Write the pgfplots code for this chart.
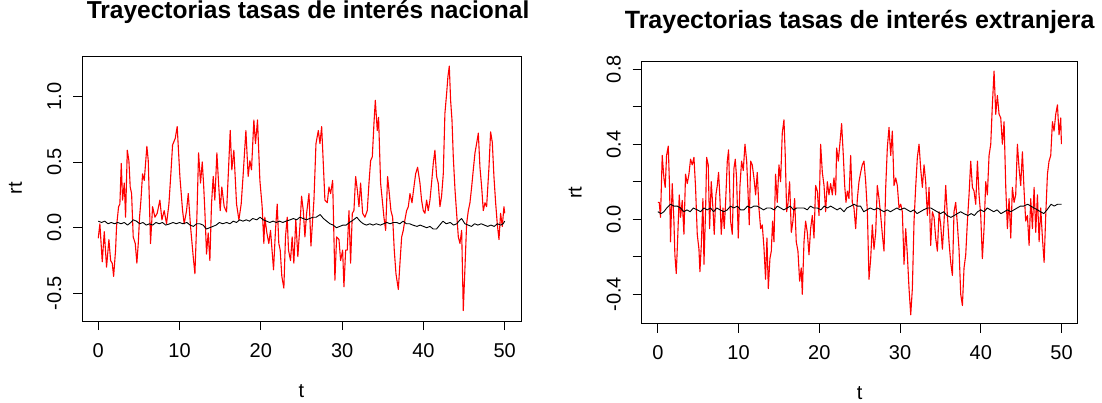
\documentclass[border=0pt]{standalone}
\usepackage{fontspec}
\setmainfont{Liberation Sans}
\usepackage{pgfplots}
\pgfplotsset{compat=1.18}

\pgfplotsset{
  rpanel/.style={
    scale only axis,
    anchor=south west,
    xmin=-2, xmax=52,
    xtick={0,10,20,30,40,50},
    xticklabels={0,10,20,30,40,50},
    tick pos=left,
    tick align=outside,
    major tick length=9pt,
    every tick/.style={black, line width=0.8pt},
    axis line style={black, line width=0.9pt},
    tick label style={font=\fontsize{20}{24}\selectfont},
    xticklabel style={anchor=base},
    xticklabel shift=27pt,
    yticklabel style={rotate=90, anchor=base},
    yticklabel shift=12pt,
    label style={font=\fontsize{20}{24}\selectfont},
    xlabel={t},
    ylabel={rt},
    xlabel style={at={(axis description cs:0.5,0)}, anchor=base, yshift=-76pt},
    title style={font=\fontsize{24.5}{28}\selectfont\bfseries, anchor=base},
  },
  red line/.style={color=red, line width=1.1pt, line join=round},
  black line/.style={color=black, line width=0.9pt, line join=round},
}

\begin{document}
\begin{tikzpicture}

% panel izquierdo: tasas nacionales
\begin{axis}[rpanel,
  at={(82pt,81pt)},
  width=439pt, height=265pt,
  ymin=-0.710, ymax=1.307,
  ytick={-0.5,0,0.5,1.0},
  yticklabels={-0.5,0.0,0.5,1.0},
  ylabel style={at={(axis description cs:-0.1367,0.5)}, anchor=base},
  title={Trayectorias tasas de interés nacional},
  title style={at={(axis description cs:0.515,1)}, yshift=31pt},
]
\addplot[red line] coordinates {
(0.00,-0.08) (0.20,0.03) (0.49,-0.26) (0.74,-0.03) (1.02,-0.30) (1.31,-0.09) (1.52,-0.25) (1.72,-0.27) (1.89,-0.37) (2.13,-0.17) (2.25,0.01) (2.50,0.16) (2.66,0.18) (2.83,0.49) (2.99,0.21) (3.20,0.34) (3.36,0.08) (3.57,0.59) (3.77,0.51) (3.93,0.31) (4.10,0.26) (4.30,-0.07) (4.55,-0.12) (4.75,-0.27) (4.92,-0.12) (5.08,0.08) (5.25,0.21) (5.45,0.41) (5.66,0.36) (5.98,0.62) (6.15,0.51) (6.43,-0.12) (6.68,0.16) (6.97,0.08) (7.25,0.11) (7.58,0.21) (7.83,0.06) (8.11,0.13) (8.40,0.03) (8.69,0.18) (8.93,0.41) (9.14,0.63) (9.47,0.68) (9.71,0.77) (10.04,0.39) (10.37,0.13) (10.57,0.03) (10.86,0.13) (11.07,0.26) (11.35,0.01) (11.68,-0.22) (11.89,-0.35) (12.13,0.08) (12.34,0.57) (12.58,0.34) (12.79,0.50) (12.95,0.34) (13.11,0.13) (13.32,-0.20) (13.52,-0.04) (13.73,-0.25) (13.93,0.18) (14.14,0.39) (14.34,0.21) (14.59,0.57) (14.80,0.34) (15.00,0.13) (15.20,0.31) (15.49,0.16) (15.78,0.12) (16.02,0.44) (16.23,0.74) (16.43,0.44) (16.68,0.59) (17.01,0.18) (17.30,0.06) (17.58,0.18) (17.83,0.41) (18.16,0.74) (18.44,0.39) (18.65,0.51) (18.85,0.44) (19.14,0.82) (19.34,0.64) (19.59,0.82) (19.88,0.36) (20.16,0.16) (20.37,-0.12) (20.49,0.08) (20.74,-0.04) (20.98,-0.12) (21.19,-0.02) (21.56,-0.32) (21.80,-0.02) (22.01,0.18) (22.21,-0.12) (22.38,-0.17) (22.58,-0.37) (22.83,-0.46) (23.03,-0.07) (23.24,0.08) (23.40,-0.17) (23.65,-0.25) (23.85,-0.07) (24.06,-0.27) (24.30,0.06) (24.55,-0.22) (24.80,0.01)
(25.01,0.24) (25.22,0.13) (25.42,-0.07) (25.63,0.11) (25.92,0.26) (26.16,-0.14) (26.37,0.06) (26.53,0.21) (26.78,0.64) (27.07,0.74) (27.27,0.64) (27.48,0.77) (27.68,0.49) (27.88,0.21) (28.17,0.19) (28.38,0.31) (28.58,0.26) (28.83,0.36) (29.11,-0.40) (29.32,-0.07) (29.61,-0.09) (29.81,-0.25) (30.06,-0.17) (30.22,-0.45) (30.43,-0.17) (30.63,-0.17) (30.84,0.13) (31.04,-0.27) (31.25,0.11) (31.45,0.13) (31.66,0.39) (31.86,0.29) (32.07,0.16) (32.27,0.34) (32.52,0.11) (32.80,0.08) (33.09,0.13) (33.30,0.34) (33.50,0.51) (33.71,0.54) (33.91,0.79) (34.08,0.97) (34.32,0.74) (34.48,0.84) (34.73,0.34) (34.89,0.24) (35.14,0.08) (35.35,-0.02) (35.59,0.39) (35.80,0.26) (36.00,0.13) (36.21,0.08) (36.41,-0.17) (36.62,-0.35) (36.91,-0.47) (37.11,-0.27) (37.32,-0.07) (37.52,-0.02) (37.72,0.06) (37.93,0.13) (38.14,0.16) (38.34,0.26) (38.59,0.19) (38.83,0.31) (39.04,0.41) (39.28,0.46) (39.57,0.34) (39.77,0.21) (39.98,0.13) (40.18,0.11) (40.39,0.21) (40.59,0.13) (40.80,0.21) (41.00,0.34) (41.21,0.49) (41.41,0.59) (41.62,0.39) (41.82,0.34) (42.03,0.16) (42.23,0.24) (42.44,0.41) (42.64,0.87) (42.85,1.02) (43.01,1.15) (43.18,1.23) (43.34,0.97) (43.51,0.82) (43.67,0.54) (43.88,0.29) (44.08,0.11) (44.29,-0.07) (44.49,-0.12) (44.70,-0.02) (44.90,-0.63) (45.11,-0.30) (45.31,0.03) (45.52,0.13) (45.72,0.19) (45.93,0.31) (46.13,0.44) (46.34,0.57) (46.54,0.64) (46.75,0.72) (46.95,0.46) (47.16,0.31) (47.36,0.13) (47.57,0.19) (47.77,0.16) (48.06,0.46) (48.26,0.73) (48.47,0.65) (48.67,0.39) (48.88,0.19) (49.08,0.03) (49.29,-0.09) (49.49,0.11) (49.70,0.01) (49.90,0.16) (50.00,0.11)
};
\addplot[black line] coordinates {
(0,0.05) (0.4,0.04) (0.8,0.05) (1.2,0.03) (1.6,0.04) (2.0,0.03) (2.4,0.04) (2.8,0.03) (3.2,0.04) (3.6,0.02) (4.0,0.04) (4.3,0.06) (4.7,0.05) (5.1,0.03) (5.5,0.04) (5.9,0.02) (6.3,0.03) (6.7,0.02) (7.1,0.04) (7.5,0.03) (7.9,0.04) (8.3,0.02) (8.8,0.03) (9.2,0.04) (9.6,0.03) (10.0,0.04) (10.4,0.03) (10.9,0.04) (11.3,0.02) (11.7,0.01) (12.1,0.03) (12.5,0.03) (12.9,0.02) (13.3,-0.01) (13.7,0.00) (14.1,0.01) (14.5,0.02) (14.9,0.04) (15.3,0.03) (15.8,0.04) (16.2,0.03) (16.6,0.05) (17.0,0.04) (17.4,0.06) (17.8,0.05) (18.2,0.06) (18.6,0.05) (19.0,0.07) (19.5,0.06) (19.9,0.08) (20.3,0.06) (20.7,0.05) (21.1,0.04) (21.5,0.05) (21.9,0.04) (22.3,0.05) (22.7,0.04) (23.1,0.05) (23.6,0.06) (24.0,0.07) (24.4,0.06) (24.8,0.08) (25.2,0.07) (25.6,0.06) (26.0,0.07) (26.4,0.08) (26.8,0.08) (27.3,0.10) (27.7,0.07) (28.1,0.05) (28.5,0.03) (28.9,0.02) (29.3,0.00) (29.7,0.01) (30.1,0.02) (30.5,0.02) (30.9,0.04) (31.4,0.06) (31.8,0.08) (32.2,0.05) (32.6,0.03) (33.0,0.02) (33.4,0.03) (33.8,0.02) (34.2,0.03) (34.7,0.02) (35.1,0.03) (35.5,0.04) (35.9,0.03) (36.3,0.04) (36.7,0.04) (37.1,0.03) (37.5,0.05) (37.9,0.03) (38.3,0.03) (38.7,0.02) (39.2,0.01) (39.6,0.02) (40.0,0.01) (40.4,0.00) (40.8,0.01) (41.2,-0.01) (41.6,-0.01) (42.0,0.02) (42.4,0.05) (42.8,0.03) (43.3,0.04) (43.7,0.02) (44.1,0.03) (44.5,0.06) (44.7,0.07) (45.1,0.03) (45.5,0.02) (45.9,0.01) (46.3,0.03) (46.7,0.02) (47.1,0.03) (47.5,0.02) (47.9,0.01) (48.3,0.02) (48.7,0.01) (49.1,0.03) (49.5,0.02) (49.8,0.03) (50,0.05)
};
\end{axis}

% panel derecho: tasas extranjeras
\begin{axis}[rpanel,
  at={(641.7pt,78.3pt)},
  width=436pt, height=262pt,
  ymin=-0.557, ymax=0.840,
  ytick={-0.4,-0.2,0,0.2,0.4,0.6,0.8},
  yticklabels={-0.4,,0.0,,0.4,,0.8},
  ylabel style={at={(axis description cs:-0.1376,0.5)}, anchor=base},
  title={Trayectorias tasas de interés extranjera},
  title style={at={(axis description cs:0.5,1)}, yshift=26.7pt, font=\fontsize{25}{28}\selectfont\bfseries},
]
\addplot[red line] coordinates {
(0.00,0.09) (0.17,0.09) (0.33,0.01) (0.54,0.34) (0.75,0.22) (0.91,0.17) (1.08,0.34) (1.29,0.39) (1.45,0.17) (1.57,-0.12) (1.78,0.19) (1.99,-0.01) (2.11,-0.19) (2.28,-0.29) (2.44,-0.12) (2.65,0.13) (2.81,0.01) (3.02,0.10) (3.23,-0.08) (3.43,0.24) (3.64,0.19) (3.85,0.24) (4.05,0.32) (4.26,0.29) (4.47,0.33) (4.67,0.17) (4.88,-0.08) (5.09,-0.16) (5.21,-0.28) (5.38,-0.14) (5.58,0.11) (5.71,-0.24) (5.91,0.04) (6.04,0.33) (6.24,0.29) (6.41,-0.05) (6.61,0.20) (6.82,0.06) (6.98,-0.08) (7.19,0.13) (7.36,0.18) (7.52,0.25) (7.69,0.11) (7.85,-0.08) (8.06,0.06) (8.22,-0.05) (8.39,0.09) (8.60,0.31) (8.76,0.37) (9.01,-0.01) (9.22,-0.08) (9.42,0.27) (9.59,0.32) (9.75,0.22) (9.96,-0.10) (10.17,0.18) (10.37,0.31) (10.58,0.26) (10.79,0.40) (11.00,0.31) (11.16,0.15) (11.32,-0.03) (11.49,0.31) (11.69,0.29) (11.90,0.22) (12.11,0.13) (12.31,0.25) (12.52,0.06) (12.73,-0.05) (12.93,-0.03) (13.14,-0.15) (13.34,-0.32) (13.51,-0.10) (13.68,-0.37) (13.88,-0.21) (14.05,-0.17) (14.21,-0.01) (14.38,-0.12) (14.58,0.24) (14.79,0.09) (15.00,0.29) (15.20,0.20) (15.41,0.46) (15.62,0.53) (15.78,0.34) (15.95,0.04) (16.11,0.08) (16.32,0.20) (16.53,-0.07) (16.73,-0.01) (16.94,0.11) (17.14,-0.12) (17.35,-0.17) (17.56,-0.33) (17.76,-0.26) (17.89,-0.40) (18.10,-0.12) (18.30,-0.01) (18.51,-0.07) (18.72,-0.19) (18.92,-0.05) (19.13,0.02) (19.34,-0.10) (19.54,0.18) (19.75,0.15) (19.96,0.02) (20.16,0.40) (20.37,0.25) (20.58,0.18) (20.78,0.04) (20.99,0.20) (21.19,0.13) (21.40,0.19) (21.61,0.13) (21.81,0.22) (22.02,0.13) (22.14,0.38) (22.35,0.31) (22.56,0.41) (22.76,0.51) (22.97,0.34) (23.14,0.18) (23.30,0.09) (23.47,0.15) (23.67,0.11) (23.88,0.34) (24.08,0.09) (24.29,0.06) (24.50,-0.05) (24.71,0.11) (24.91,0.20) (25.12,0.25)
(25.32,0.29) (25.53,0.31) (25.74,0.20) (25.95,0.04) (26.15,-0.32) (26.36,-0.21) (26.56,-0.03) (26.77,-0.16) (26.98,-0.07) (27.18,0.18) (27.39,0.11) (27.60,0.02) (27.80,-0.08) (28.01,-0.17) (28.22,0.17) (28.42,0.38) (28.63,0.49) (28.84,0.34) (29.04,0.47) (29.25,0.18) (29.46,0.22) (29.66,0.18) (29.87,0.06) (30.08,0.08) (30.28,0.04) (30.49,-0.24) (30.70,-0.05) (30.90,-0.19) (31.11,-0.37) (31.32,-0.51) (31.52,-0.37) (31.73,-0.01) (31.93,0.17) (32.14,0.33) (32.35,0.40) (32.55,0.27) (32.76,0.17) (32.97,0.29) (33.17,0.20) (33.38,0.02) (33.59,0.17) (33.79,-0.14) (34.00,0.04) (34.21,0.01) (34.41,-0.10) (34.62,-0.17) (34.83,0.04) (35.03,-0.03) (35.24,-0.16) (35.45,-0.01) (35.65,0.18) (35.86,0.02) (36.06,-0.12) (36.27,-0.23) (36.48,-0.30) (36.68,0.04) (36.89,0.09) (37.10,-0.03) (37.30,-0.16) (37.51,-0.40) (37.72,-0.46) (37.92,-0.26) (38.13,-0.19) (38.34,-0.01) (38.54,0.13) (38.75,0.31) (38.96,0.17) (39.16,0.15) (39.37,0.08) (39.58,0.31) (39.78,0.13) (39.99,0.02) (40.19,-0.21) (40.40,-0.05) (40.61,0.20) (40.81,0.13) (41.02,0.34) (41.23,0.40) (41.43,0.61) (41.64,0.79) (41.85,0.56) (42.05,0.66) (42.26,0.56) (42.47,0.54) (42.67,0.40) (42.88,0.52) (43.09,0.17) (43.29,-0.05) (43.50,0.11) (43.71,-0.10) (43.91,0.17) (44.12,0.09) (44.32,0.13) (44.53,0.40) (44.74,0.27) (44.94,0.18) (45.15,0.36) (45.36,0.15) (45.56,-0.01) (45.77,0.02) (45.98,-0.14) (46.18,0.11) (46.39,-0.05) (46.60,0.17) (46.80,-0.07) (47.01,0.13) (47.22,-0.12) (47.42,0.06) (47.63,-0.10) (47.84,-0.23) (48.04,0.02) (48.25,0.24) (48.45,0.31) (48.66,0.34) (48.87,0.52) (49.07,0.47) (49.28,0.56) (49.49,0.61) (49.69,0.45) (49.90,0.54) (49.98,0.40)
};
\addplot[black line] coordinates {
(0,0.04) (0.4,0.03) (0.75,0.04) (1.1,0.06) (1.57,0.08) (2.0,0.07) (2.4,0.07) (2.8,0.06) (3.23,0.04) (3.6,0.05) (4.0,0.04) (4.4,0.06) (4.88,0.05) (5.3,0.04) (5.7,0.06) (6.1,0.05) (6.53,0.06) (6.9,0.04) (7.3,0.06) (7.7,0.05) (8.18,0.04) (8.6,0.05) (9.0,0.07) (9.4,0.06) (9.84,0.07) (10.25,0.05) (10.66,0.05) (11.1,0.07) (11.5,0.06) (11.9,0.07) (12.3,0.07) (12.7,0.06) (13.1,0.05) (13.5,0.06) (13.96,0.06) (14.4,0.05) (14.8,0.07) (15.2,0.06) (15.6,0.05) (16.0,0.06) (16.4,0.07) (16.8,0.05) (17.2,0.06) (17.6,0.06) (18.1,0.06) (18.5,0.05) (18.9,0.07) (19.3,0.06) (19.75,0.06) (20.2,0.05) (20.6,0.07) (21.0,0.06) (21.4,0.07) (21.8,0.06) (22.2,0.05) (22.6,0.06) (23.05,0.04) (23.4,0.06) (23.9,0.07) (24.3,0.08) (24.7,0.07) (25.1,0.07) (25.5,0.04) (25.9,0.05) (26.3,0.06) (26.8,0.05) (27.2,0.06) (27.6,0.05) (28.0,0.04) (28.4,0.05) (28.8,0.04) (29.2,0.05) (29.6,0.06) (30.0,0.05) (30.5,0.06) (30.9,0.05) (31.3,0.04) (31.7,0.05) (32.1,0.03) (32.5,0.04) (32.9,0.05) (33.4,0.06) (33.8,0.06) (34.2,0.05) (34.6,0.04) (35.0,0.03) (35.4,0.04) (35.8,0.02) (36.3,0.01) (36.7,0.02) (37.1,0.03) (37.5,0.04) (37.9,0.03) (38.4,0.02) (38.8,0.03) (39.2,0.02) (39.6,0.04) (40.0,0.05) (40.4,0.04) (40.8,0.06) (41.2,0.05) (41.6,0.04) (42.0,0.05) (42.5,0.03) (42.9,0.04) (43.3,0.05) (43.7,0.04) (44.1,0.05) (44.5,0.06) (44.9,0.07) (45.3,0.07) (45.8,0.08) (46.2,0.07) (46.6,0.06) (47.0,0.05) (47.4,0.04) (47.8,0.03) (48.2,0.05) (48.7,0.08) (49.1,0.07) (49.5,0.08) (50,0.08)
};
\end{axis}

\pgfresetboundingbox
\path[use as bounding box] (0pt,0pt) rectangle (1102pt,402pt);
\end{tikzpicture}
\end{document}
